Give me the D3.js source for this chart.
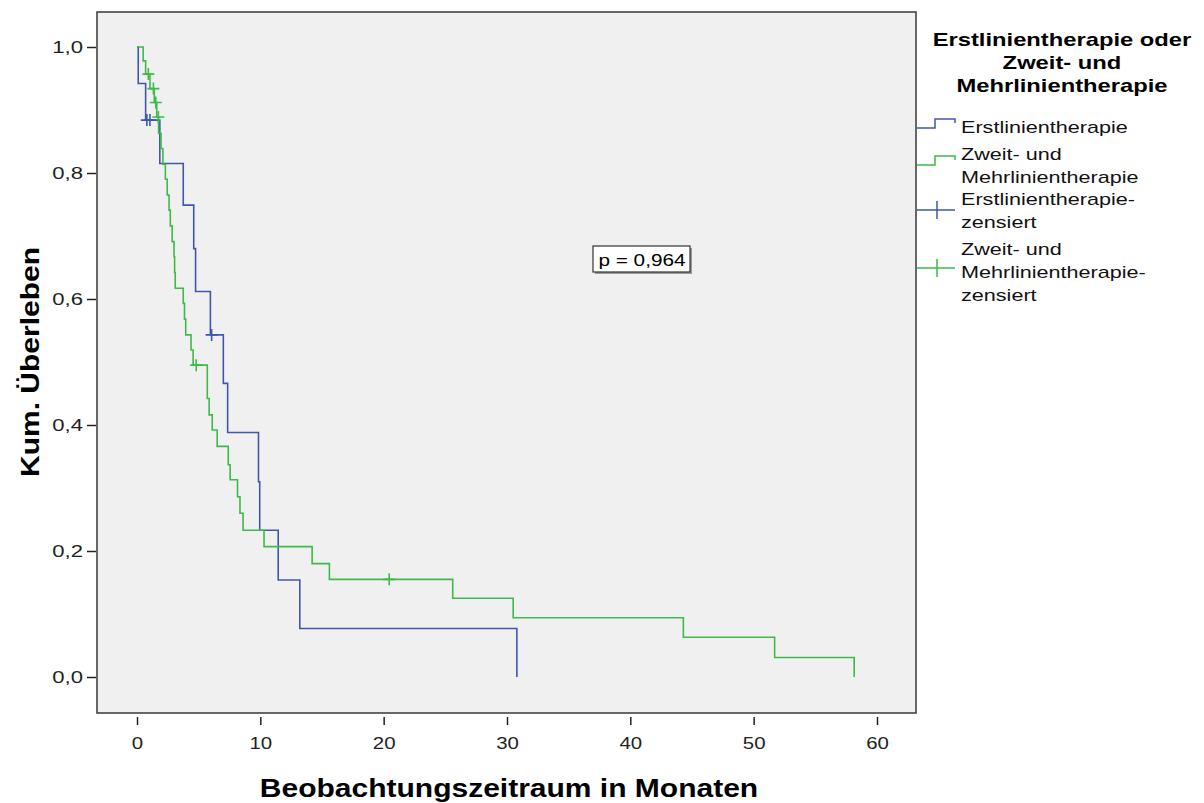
<!DOCTYPE html>
<html>
<head>
<meta charset="utf-8">
<script src="https://cdn.jsdelivr.net/npm/d3@7"></script>
<style>
  body { margin: 0; background: #fff; }
  svg { font-family: "Liberation Sans", Arial, sans-serif; }
</style>
</head>
<body>
<div id="chart-container"></div>
<script>
// Erstlinientherapie (blue) step points
const erstTime = [0, 0.1, 0.7, 1.85, 3.75, 4.6, 4.75, 5.95, 7.0, 7.35, 9.85, 9.95, 11.45, 13.2, 30.8];
const erstSurv = [1.0, 0.942, 0.884, 0.815, 0.749, 0.680, 0.612, 0.543, 0.466, 0.388, 0.310, 0.233, 0.154, 0.077, 0];
const erstCensTime = [0.8, 1.05, 6.05];
const erstCensSurv = [0.884, 0.884, 0.543];

// Zweit- und Mehrlinientherapie (green) step points
const zweitTime = [0, 0.5, 0.7, 1.05, 1.4, 1.6, 1.75, 1.95, 2.1, 2.3, 2.45, 2.6, 2.7, 2.85, 3.0, 3.05, 3.1,
  3.75, 3.85, 3.95, 4.38, 4.55, 5.7, 5.85, 6.1, 6.5, 7.4, 7.55, 8.15, 8.35, 8.6, 10.3, 14.2, 15.6,
  25.6, 30.5, 44.3, 51.7, 58.15];
const zweitSurv = [1.0, 0.978, 0.957, 0.934, 0.912, 0.889, 0.863, 0.839, 0.814, 0.790, 0.765, 0.741, 0.716,
  0.691, 0.667, 0.642, 0.617, 0.593, 0.568, 0.543, 0.519, 0.495, 0.442, 0.416, 0.392, 0.366, 0.337,
  0.313, 0.286, 0.260, 0.233, 0.207, 0.180, 0.155, 0.125, 0.094, 0.063, 0.031, 0];
const zweitCensTime = [0.92, 1.33, 1.52, 1.73, 4.8, 20.45];
const zweitCensSurv = [0.957, 0.934, 0.912, 0.889, 0.495, 0.155];

const xTicks = [0, 10, 20, 30, 40, 50, 60];
const yTicks = [0, 0.2, 0.4, 0.6, 0.8, 1.0];

const legendTitle = ["Erstlinientherapie oder", "Zweit- und", "Mehrlinientherapie"];
const pText = "p = 0,964";

const blue = "#3e58ac";
const green = "#3dbb48";

const width = 1204, height = 803;
const frame = { left: 97, right: 916, top: 12, bottom: 713 };

// the original renders its type quite wide, stretch text along its run
function widen(sel, k) {
  sel.each(function () {
    const w = this.getComputedTextLength();
    d3.select(this).attr("textLength", w * k).attr("lengthAdjust", "spacingAndGlyphs");
  });
}

const svg = d3.select("#chart-container")
  .append("svg")
  .attr("width", width)
  .attr("height", height);

const x = d3.scaleLinear().domain([0, 60]).range([137, 877]);
const y = d3.scaleLinear().domain([0, 1]).range([677, 47]);

// plot background
svg.append("rect")
  .attr("x", frame.left)
  .attr("y", frame.top)
  .attr("width", frame.right - frame.left)
  .attr("height", frame.bottom - frame.top)
  .attr("fill", "#f0f0f0");

// curves
const line = d3.line()
  .x(d => x(d[0]))
  .y(d => y(d[1]))
  .curve(d3.curveStepAfter);

const series = [
  { time: erstTime, surv: erstSurv, ct: erstCensTime, cs: erstCensSurv, color: blue },
  { time: zweitTime, surv: zweitSurv, ct: zweitCensTime, cs: zweitCensSurv, color: green }
];

series.forEach(s => {
  const pts = s.time.map((t, i) => [t, s.surv[i]]);
  svg.append("path")
    .attr("d", line(pts))
    .attr("fill", "none")
    .attr("stroke", s.color)
    .attr("stroke-width", 1.6);

  const cens = s.ct.map((t, i) => [t, s.cs[i]]);
  svg.selectAll(null)
    .data(cens)
    .enter()
    .append("path")
    .attr("d", d => {
      const cx = x(d[0]), cy = y(d[1]);
      return `M${cx - 6},${cy}H${cx + 6}M${cx},${cy - 6}V${cy + 6}`;
    })
    .attr("stroke", s.color)
    .attr("stroke-width", 1.6);
});

// frame
svg.append("rect")
  .attr("x", frame.left)
  .attr("y", frame.top)
  .attr("width", frame.right - frame.left)
  .attr("height", frame.bottom - frame.top)
  .attr("fill", "none")
  .attr("stroke", "#444")
  .attr("stroke-width", 1.6);

// x axis
const xAxis = svg.append("g")
  .attr("transform", `translate(0,${frame.bottom + 4})`)
  .call(d3.axisBottom(x).tickValues(xTicks).tickSize(8).tickPadding(12).tickFormat(d3.format("d")));
xAxis.select(".domain").remove();
xAxis.selectAll("line").attr("stroke", "#222").attr("stroke-width", 1.5);
xAxis.selectAll("text").attr("font-size", 17).attr("fill", "#222")
  .attr("font-family", "'Liberation Sans', Arial, sans-serif")
  .call(widen, 1.2);

// y axis
const yAxis = svg.append("g")
  .attr("transform", `translate(${frame.left - 1},0)`)
  .call(d3.axisLeft(y).tickValues(yTicks).tickSize(9).tickPadding(4)
    .tickFormat(d => d3.format(".1f")(d).replace(".", ",")));
yAxis.select(".domain").remove();
yAxis.selectAll("line").attr("stroke", "#222").attr("stroke-width", 1.5);
yAxis.selectAll("text").attr("font-size", 17).attr("fill", "#222")
  .attr("font-family", "'Liberation Sans', Arial, sans-serif")
  .call(widen, 1.3);

// axis titles
svg.append("text")
  .attr("x", 509)
  .attr("y", 797)
  .attr("text-anchor", "middle")
  .attr("font-size", 25)
  .attr("font-weight", "bold")
  .text("Beobachtungszeitraum in Monaten")
  .call(widen, 1.2);

svg.append("text")
  .attr("transform", "translate(39,362) rotate(-90)")
  .attr("text-anchor", "middle")
  .attr("font-size", 25)
  .attr("font-weight", "bold")
  .text("Kum. Überleben")
  .call(widen, 1.2);

// p-value box
const pg = svg.append("g");
pg.append("rect")
  .attr("x", 595).attr("y", 248).attr("width", 97).attr("height", 26)
  .attr("fill", "#999");
pg.append("rect")
  .attr("x", 593).attr("y", 246).attr("width", 97).attr("height", 26)
  .attr("fill", "#fff").attr("stroke", "#333").attr("stroke-width", 1.2);
pg.append("text")
  .attr("x", 642).attr("y", 266)
  .attr("text-anchor", "middle")
  .attr("font-size", 17)
  .text(pText)
  .call(widen, 1.22);

// legend
const lg = svg.append("g");
lg.selectAll(".ltitle")
  .data(legendTitle)
  .enter()
  .append("text")
  .attr("class", "ltitle")
  .attr("x", 1062)
  .attr("y", (d, i) => 46 + i * 23)
  .attr("text-anchor", "middle")
  .attr("font-size", 19)
  .attr("font-weight", "bold")
  .text(d => d)
  .call(widen, 1.25);

const legendItems = [
  { lines: ["Erstlinientherapie"], color: blue, type: "step", y0: 133, sy: 124 },
  { lines: ["Zweit- und", "Mehrlinientherapie"], color: green, type: "step", y0: 160, sy: 161 },
  { lines: ["Erstlinientherapie-", "zensiert"], color: blue, type: "cens", y0: 205, sy: 210 },
  { lines: ["Zweit- und", "Mehrlinientherapie-", "zensiert"], color: green, type: "cens", y0: 255, sy: 268 }
];

legendItems.forEach(it => {
  const sy = it.sy;
  if (it.type === "step") {
    lg.append("path")
      .attr("d", `M917,${sy + 4}H935V${sy - 5}H955V${sy - 1}`)
      .attr("fill", "none").attr("stroke", it.color).attr("stroke-width", 1.5);
  } else {
    lg.append("path")
      .attr("d", `M917,${sy}H955M937,${sy - 9}V${sy + 9}`)
      .attr("fill", "none").attr("stroke", it.color).attr("stroke-width", 1.5);
  }
  lg.selectAll(null)
    .data(it.lines)
    .enter()
    .append("text")
    .attr("x", 961)
    .attr("y", (d, i) => it.y0 + i * 23)
    .attr("font-size", 17)
    .attr("fill", "#111")
    .text(d => d)
    .call(widen, 1.27);
});
</script>
</body>
</html>
